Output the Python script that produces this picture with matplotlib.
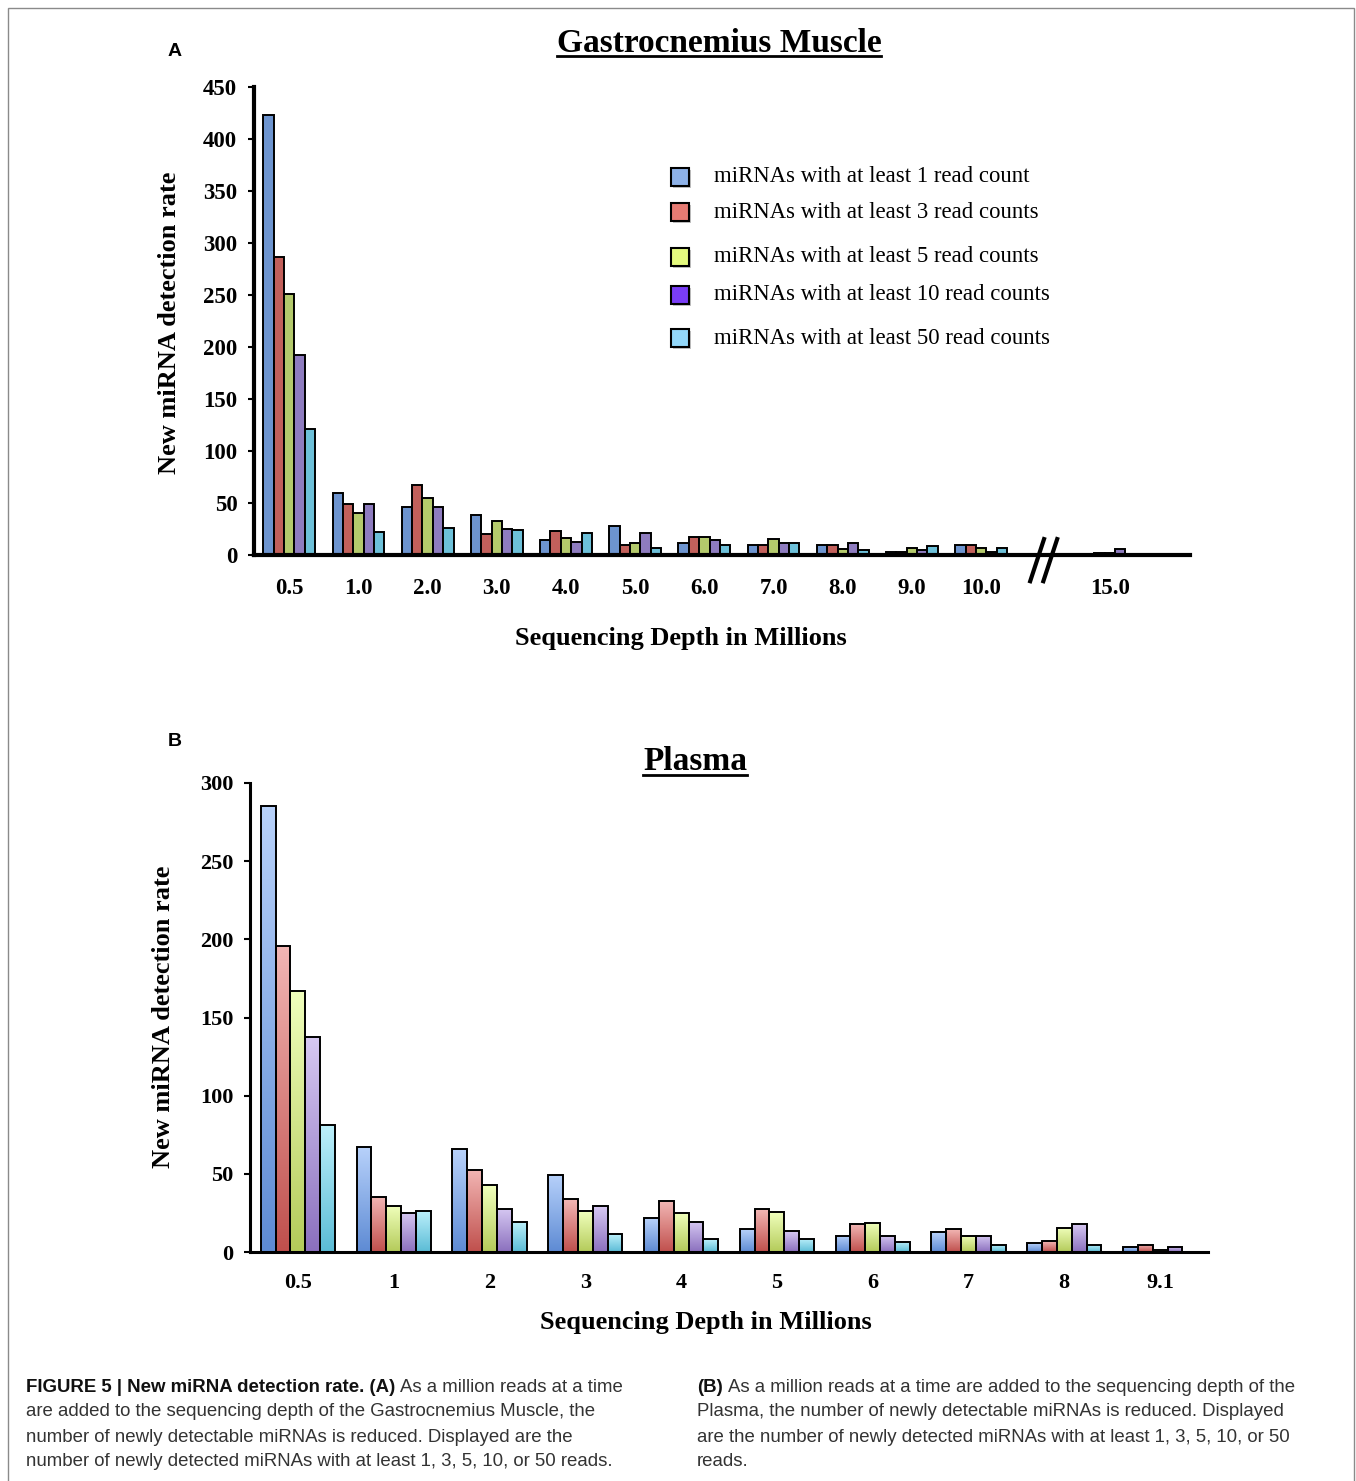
import matplotlib
matplotlib.use("Agg")
import matplotlib.pyplot as plt
import matplotlib.transforms as mtrans
import numpy as np
from matplotlib.patches import Rectangle
from matplotlib.lines import Line2D
from matplotlib.colors import to_rgb

#-------------------------------------------------------------------------------
# Data

series_labels = [
  "miRNAs with at least 1 read count",
  "miRNAs with at least 3 read counts",
  "miRNAs with at least 5 read counts",
  "miRNAs with at least 10 read counts",
  "miRNAs with at least 50 read counts",
]

# (A) Gastrocnemius Muscle
muscle_depths = ["0.5", "1.0", "2.0", "3.0", "4.0", "5.0", "6.0", "7.0", "8.0", "9.0", "10.0", "15.0"]
muscle_1 = [423, 60, 46, 38, 14, 28, 12, 10, 10, 3, 10, 1]
muscle_3 = [287, 49, 67, 20, 23, 10, 17, 10, 10, 2.5, 10, 2]
muscle_5 = [251, 40, 55, 33, 16, 12, 17, 15, 6, 6.5, 6.5, 2]
muscle_10 = [192, 49, 46, 25, 12.5, 21, 14, 12, 12, 4.5, 2.5, 6]
muscle_50 = [121, 22, 26, 24, 21.5, 6.5, 10, 12, 5, 8.5, 6.5, 1]

# (B) Plasma
plasma_depths = ["0.5", "1", "2", "3", "4", "5", "6", "7", "8", "9.1"]
plasma_1 = [285, 67, 65.6, 49.4, 21.5, 14.5, 10.4, 12.6, 5.5, 3.2]
plasma_3 = [196, 35.5, 52.6, 33.6, 32.4, 27.5, 17.7, 14.5, 6.8, 4.5]
plasma_5 = [167, 29.6, 42.6, 26.2, 25.1, 25.5, 18.7, 10.4, 15.5, 1.5]
plasma_10 = [137.5, 25, 27.7, 29.4, 19.2, 13.4, 10.4, 10.4, 17.7, 3.5]
plasma_50 = [81.5, 26.4, 19.4, 11.3, 8.3, 8.5, 6.6, 4.5, 4.5, 0]

#-------------------------------------------------------------------------------
# Styling

W, H = 1356, 1481
SERIF = "Liberation Serif"
SANS = "Liberation Sans"

muscle_colors = ["#6D94CF", "#C2605B", "#B4CA6C", "#8E7CBF", "#6DC0D9"]
legend_colors = ["#8EB2E8", "#E67B73", "#E4FA7E", "#7A3DF6", "#93D8FA"]
plasma_top = ["#B7D1FA", "#F2B6B4", "#F0FFBC", "#D6C8F2", "#BDF0FB"]
plasma_bot = ["#5E8BD4", "#C0504D", "#B4CB5A", "#8B70BE", "#5BBCD6"]


def fx(px):
  return px / W


def fy(py):
  return 1.0 - py / H


def style_axes(ax, lw, ylim, yticks, tick_size, xpad):
  for side in ("top", "right"):
    ax.spines[side].set_visible(False)
  for side in ("left", "bottom"):
    ax.spines[side].set_linewidth(lw)
  ax.set_ylim(*ylim)
  ax.set_yticks(yticks)
  ax.tick_params(axis="y", direction="out", length=4, width=1.5, pad=8)
  ax.tick_params(axis="x", length=0, pad=xpad)
  for lab in ax.get_xticklabels() + ax.get_yticklabels():
    lab.set_fontfamily(SERIF)
    lab.set_fontweight("bold")
    lab.set_fontsize(tick_size)


def gradient_bar(ax, rect, top, bot):
  x0, y0 = rect.get_x(), rect.get_y()
  w, h = rect.get_width(), rect.get_height()
  if h <= 0:
    return
  g = np.linspace(0, 1, 64)[:, None, None]
  img = np.array(to_rgb(bot))[None, None, :] * (1 - g) + np.array(to_rgb(top))[None, None, :] * g
  im = ax.imshow(img, extent=[x0, x0 + w, y0, y0 + h], origin="lower",
                 aspect="auto", interpolation="bilinear", zorder=2)
  im.set_clip_path(rect)


def underline(fig, txt, y_px, lw):
  fig.canvas.draw()
  bb = txt.get_window_extent(renderer=fig.canvas.get_renderer())
  fig.add_artist(Line2D([fx(bb.x0), fx(bb.x1)], [fy(y_px), fy(y_px)],
                        transform=fig.transFigure, color="black", lw=lw))


#-------------------------------------------------------------------------------

fig = plt.figure(figsize=(W / 100, H / 100), dpi=100)

# Outer frame
fig.add_artist(Rectangle((fx(8), fy(H + 10)), fx(1354) - fx(8), fy(8) - fy(H + 10),
                         transform=fig.transFigure, fill=False, ec="#8a8a8a", lw=1.0))

# --- Panel A --------------------------------------------------------------------
ax_a = fig.add_axes([fx(254), fy(555), fx(1190) - fx(254), (555 - 87) / H])
pos_a = np.r_[np.arange(11), 11.86]
bw_a = 0.15
muscle = [muscle_1, muscle_3, muscle_5, muscle_10, muscle_50]
for i, vals in enumerate(muscle):
  ax_a.bar(pos_a + (i - 2) * bw_a, vals, bw_a, color=muscle_colors[i],
           edgecolor="black", linewidth=1.4, zorder=2)
ax_a.set_xlim(-0.51, 13.02)
ax_a.set_xticks(pos_a, muscle_depths)
style_axes(ax_a, 3.0, (0, 450), np.arange(0, 451, 50), 16.5, 16.5)

# axis break marks
brk = mtrans.blended_transform_factory(ax_a.transData, ax_a.transAxes)
for x0 in (10.81, 11.0):
  ax_a.add_line(Line2D([x0 - 0.1, x0 + 0.1], [-0.056, 0.034], transform=brk,
                       color="black", lw=3, clip_on=False, zorder=5))

# legend drawn by hand to keep the uneven row spacing of the original
for row_y, col, lab in zip([177, 212, 257, 295, 338], legend_colors, series_labels):
  fig.add_artist(Rectangle((fx(673), fy(row_y + 11)), 18 / W, 18 / H,
                           transform=fig.transFigure, fc="#9a9a9a", ec="none", alpha=0.6))
  fig.add_artist(Rectangle((fx(671), fy(row_y + 9)), 18 / W, 18 / H,
                           transform=fig.transFigure, fc=col, ec="black", lw=1.5))
  fig.text(fx(714), fy(row_y), lab, family=SERIF, fontsize=16.4, va="center", ha="left")

fig.text(fx(175), fy(52), "A", family=SANS, weight="bold", fontsize=14, va="center", ha="center")
t_a = fig.text(fx(719), fy(43), "Gastrocnemius Muscle", family=SERIF, weight="bold",
               fontsize=24, va="center", ha="center")
fig.text(fx(170), fy(323), "New miRNA detection rate", family=SERIF, weight="bold",
         fontsize=19, rotation=90, va="center", ha="center")
fig.text(fx(681), fy(638), "Sequencing Depth in Millions", family=SERIF, weight="bold",
         fontsize=19, va="center", ha="center")

# --- Panel B --------------------------------------------------------------------
ax_b = fig.add_axes([fx(250), fy(1252), fx(1208) - fx(250), (1252 - 783) / H])
pos_b = np.arange(len(plasma_depths))
bw_b = 0.155
plasma = [plasma_1, plasma_3, plasma_5, plasma_10, plasma_50]
for i, vals in enumerate(plasma):
  bars = ax_b.bar(pos_b + (i - 2) * bw_b, vals, bw_b, facecolor="none",
                  edgecolor="black", linewidth=1.4, zorder=3)
  for rect in bars:
    gradient_bar(ax_b, rect, plasma_top[i], plasma_bot[i])
ax_b.set_xlim(-0.5, 9.5)
ax_b.set_xticks(pos_b, plasma_depths)
style_axes(ax_b, 2.2, (0, 300), np.arange(0, 301, 50), 16, 15)

fig.text(fx(175), fy(741), "B", family=SANS, weight="bold", fontsize=14, va="center", ha="center")
t_b = fig.text(fx(695), fy(762), "Plasma", family=SERIF, weight="bold",
               fontsize=24, va="center", ha="center")
fig.text(fx(163), fy(1017), "New miRNA detection rate", family=SERIF, weight="bold",
         fontsize=19, rotation=90, va="center", ha="center")
fig.text(fx(706), fy(1322), "Sequencing Depth in Millions", family=SERIF, weight="bold",
         fontsize=19, va="center", ha="center")

underline(fig, t_a, 56, 2.0)
underline(fig, t_b, 775, 2.0)

# --- Caption --------------------------------------------------------------------
cap_lines = [
  (26, 1387, "FIGURE 5 | New miRNA detection rate. (A)", "As a million reads at a time"),
  (26, 1412, "", "are added to the sequencing depth of the Gastrocnemius Muscle, the"),
  (26, 1437, "", "number of newly detectable miRNAs is reduced. Displayed are the"),
  (26, 1462, "", "number of newly detected miRNAs with at least 1, 3, 5, 10, or 50 reads."),
  (697, 1387, "(B)", "As a million reads at a time are added to the sequencing depth of the"),
  (697, 1412, "", "Plasma, the number of newly detectable miRNAs is reduced. Displayed"),
  (697, 1437, "", "are the number of newly detected miRNAs with at least 1, 3, 5, 10, or 50"),
  (697, 1462, "", "reads."),
]
renderer = fig.canvas.get_renderer()
for x_px, y_px, bold, rest in cap_lines:
  x_next = x_px
  if bold:
    tb = fig.text(fx(x_px), fy(y_px), bold, family=SANS, weight="bold", fontsize=13.4,
                  va="center", ha="left", color="#111111")
    x_next = tb.get_window_extent(renderer=renderer).x1 + 5
  fig.text(fx(x_next), fy(y_px), rest, family=SANS, fontsize=13.4, va="center",
           ha="left", color="#333333")

fig.savefig("out.png", dpi=100, facecolor="white")
plt.close(fig)
